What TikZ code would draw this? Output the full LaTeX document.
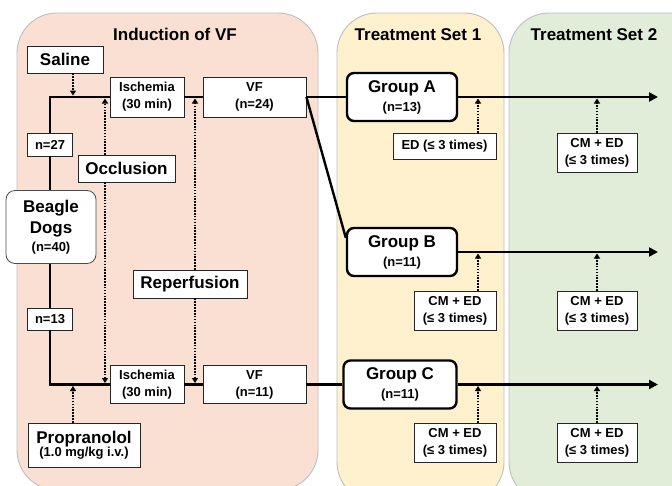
\documentclass[tikz,border=0pt]{standalone}
\usepackage{fontspec}
\setmainfont{Liberation Sans}
\usetikzlibrary{arrows.meta,calc}
\definecolor{indc}{RGB}{250,224,210}
\definecolor{setone}{RGB}{255,241,206}
\definecolor{settwo}{RGB}{225,237,216}
\begin{document}
\begin{tikzpicture}[x=1pt,y=-1pt,
  panel/.style={draw=black!25, line width=0.9pt, rounded corners=40pt},
  ttl/.style={anchor=base, font=\bfseries\fontsize{17}{20}\selectfont},
  sbox/.style={draw=black!85, line width=0.8pt, fill=white, inner sep=0pt, align=center, font=\bfseries\fontsize{13}{17}\selectfont},
  bbox/.style={sbox, font=\bfseries\fontsize{17}{20}\selectfont},
  grp/.style={draw=black, line width=2.4pt, rounded corners=7pt, fill=white, inner sep=0pt, align=center, font=\bfseries\fontsize{17}{19}\selectfont, minimum width=110pt, minimum height=48pt},
  mainln/.style={line width=2.4pt},
  mainarr/.style={line width=2.4pt, -{Triangle[length=9pt,width=9pt]}},
  dotarr/.style={line width=1.9pt, dash pattern=on 1.6pt off 1.3pt, -{Triangle[length=5pt,width=6pt]}}
]
\useasboundingbox (0,0) rectangle (672,485);
\clip (0,0) rectangle (672,485);
\fill[white] (0,0) rectangle (672,485);
% panels
\draw[panel, fill=indc] (17,13) rectangle (318,490);
\draw[panel, fill=setone] (337,13) rectangle (504,502);
\draw[panel, fill=settwo] (509,13) rectangle (720,502);
\node[ttl] (t1) at (175,40) {Induction of VF};
\node[ttl] (t2) at (418,40) {Treatment Set 1};
\node[ttl] (t3) at (594,40) {Treatment Set 2};
% nodes
\node[bbox, minimum width=76pt, minimum height=27pt] (saline) at (65,59.5) {Saline};
\node[sbox, minimum width=74pt, minimum height=40pt] (ischT) at (147,97) {Ischemia\\(30 min)};
\node[sbox, minimum width=103pt, minimum height=40pt] (vfT) at (254.5,97) {VF\\(n=24)};
\node[sbox, minimum width=45pt, minimum height=23pt] (n27) at (50,144.5) {n=27};
\node[bbox, minimum width=97pt, minimum height=27pt] (occl) at (126.5,168.5) {Occlusion};
\node[sbox, draw=black!70, rounded corners=9pt, minimum width=90pt, minimum height=73pt] (beagle) at (51,227)
  {{\fontsize{17}{20}\selectfont Beagle}\\[4pt]{\fontsize{17}{20}\selectfont Dogs}\\[1pt](n=40)};
\node[bbox, minimum width=114pt, minimum height=28pt] (reperf) at (190,284) {Reperfusion};
\node[sbox, minimum width=45pt, minimum height=22pt] (n13) at (50,319) {n=13};
\node[sbox, minimum width=74pt, minimum height=38pt] (ischB) at (147,384.5) {Ischemia\\(30 min)};
\node[sbox, minimum width=103pt, minimum height=38pt] (vfB) at (254.5,384.5) {VF\\(n=11)};
\node[sbox, minimum width=112pt, minimum height=44pt] (prop) at (84,445)
  {{\fontsize{17}{20}\selectfont Propranolol}\\[-4pt](1.0 mg/kg i.v.)};
\node[grp] (grpA) at (402,97) {Group A\\{\fontsize{13}{16}\selectfont (n=13)}};
\node[grp] (grpB) at (402,252) {Group B\\{\fontsize{13}{16}\selectfont (n=11)}};
\node[grp, minimum width=113pt] (grpC) at (400,384.5) {Group C\\{\fontsize{13}{16}\selectfont (n=11)}};
\node[sbox, minimum width=103pt, minimum height=26pt] (edA1) at (444.5,146) {ED (≤ 3 times)};
\node[sbox, minimum width=80pt, minimum height=39pt] (cmA2) at (597,152.5) {CM + ED\\(≤ 3 times)};
\node[sbox, minimum width=82pt, minimum height=39pt] (cmB1) at (455,310.5) {CM + ED\\(≤ 3 times)};
\node[sbox, minimum width=80pt, minimum height=39pt] (cmB2) at (597,310.5) {CM + ED\\(≤ 3 times)};
\node[sbox, minimum width=82pt, minimum height=39pt] (cmC1) at (455,442.5) {CM + ED\\(≤ 3 times)};
\node[sbox, minimum width=80pt, minimum height=39pt] (cmC2) at (597,442.5) {CM + ED\\(≤ 3 times)};
% coordinates
\coordinate (cT) at (50,97);
\coordinate (cB) at (50,384.5);
\coordinate (endA) at (658,97);
\coordinate (endB) at (658,252);
\coordinate (endC) at (658,384.5);
\coordinate (xS) at (73,0);
\coordinate (xO) at (105,0);
\coordinate (xR) at (195,0);
\coordinate (x1) at (478,0);
\coordinate (x2) at (597,0);
\coordinate (sT) at (73,95.5);
\coordinate (oT) at (105,98.5);
\coordinate (oB) at (105,383);
\coordinate (rT) at (195,98.5);
\coordinate (rB) at (195,383);
\coordinate (pB) at (73,386);
\coordinate (aT1) at (478,98.5);
\coordinate (aT2) at (597,98.5);
\coordinate (bT1) at (478,253.5);
\coordinate (bT2) at (597,253.5);
\coordinate (cT1) at (478,386);
\coordinate (cT2) at (597,386);
% main lines
\draw[mainln] (beagle.north -| cT) -- (n27.south);
\draw[mainln] (n27.north) -- (cT) -- (ischT.west);
\draw[mainln] (ischT.east) -- (vfT.west);
\draw[mainln] (vfT.east) -- (grpA.west);
\draw[mainarr] (grpA.east) -- (endA);
\draw[mainln] (vfT.east) -- ($(grpB.north west)+(0,11)$);
\draw[mainarr] (grpB.east) -- (endB);
\draw[mainln] (beagle.south -| cB) -- (n13.north);
\draw[mainln] (n13.south) -- (cB) -- (ischB.west);
\draw[mainln] (ischB.east) -- (vfB.west);
\draw[mainln] (vfB.east) -- (grpC.west);
\draw[mainarr] (grpC.east) -- (endC);
% dotted arrows
\draw[dotarr] (saline.south -| xS) -- (sT);
\draw[dotarr] (occl.north -| xO) -- (oT);
\draw[dotarr] (occl.south -| xO) -- (oB);
\draw[dotarr] (reperf.north -| xR) -- (rT);
\draw[dotarr] (reperf.south -| xR) -- (rB);
\draw[dotarr] (prop.north -| xS) -- (pB);
\draw[dotarr] (edA1.north -| x1) -- (aT1);
\draw[dotarr] (cmA2.north -| x2) -- (aT2);
\draw[dotarr] (cmB1.north -| x1) -- (bT1);
\draw[dotarr] (cmB2.north -| x2) -- (bT2);
\draw[dotarr] (cmC1.north -| x1) -- (cT1);
\draw[dotarr] (cmC2.north -| x2) -- (cT2);
\end{tikzpicture}
\end{document}
